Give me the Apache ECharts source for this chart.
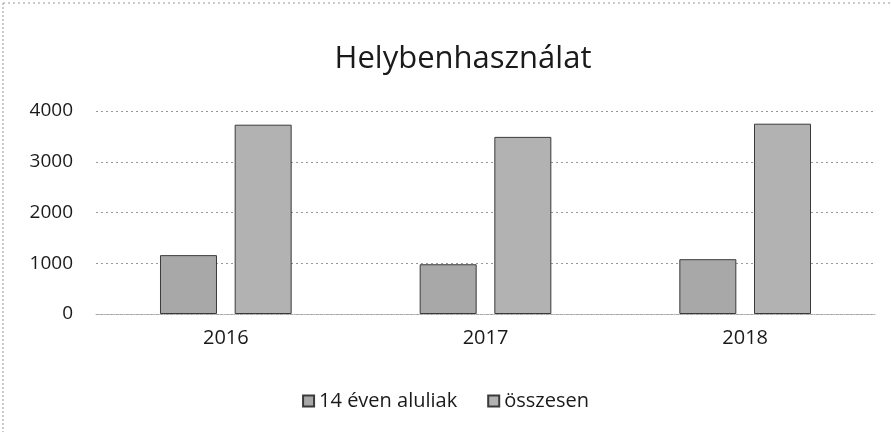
<!DOCTYPE html>
<html><head><meta charset="utf-8">
<script src="https://cdn.jsdelivr.net/npm/echarts@6/dist/echarts.min.js"></script>
<style>html,body{margin:0;padding:0;background:#fff}#c{width:891px;height:432px}</style>
</head><body><div id="c"></div>
<script>
const categories = ['2016', '2017', '2018'];
const under14 = [1160, 980, 1080];
const total = [3730, 3490, 3750];
const seriesNames = ['14 éven aluliak', 'összesen'];
const yTicks = [0, 1000, 2000, 3000, 4000];

const font = '"Open Sans", sans-serif';
const chart = echarts.init(document.getElementById('c'));
chart.setOption({
  animation: false,
  backgroundColor: '#fff',
  title: {
    text: 'Helybenhasználat', left: 458, textAlign: 'center', top: 39,
    textStyle: { fontFamily: font, fontSize: 31, fontWeight: 'normal', color: '#1a1a1a' }
  },
  legend: {
    top: 386, left: 'center', itemWidth: 11, itemHeight: 11, itemGap: 30,
    icon: 'rect',
    textStyle: { fontFamily: font, fontSize: 20, color: '#1a1a1a', padding: [0, 0, 0, 0] },
    data: seriesNames
  },
  grid: { left: 96, right: 16, top: 111, bottom: 118 },
  xAxis: {
    type: 'category', data: categories,
    axisLine: { show: true, lineStyle: { color: '#aaa', type: 'dotted' } },
    axisTick: { show: false },
    axisLabel: { fontFamily: font, fontSize: 20, color: '#1a1a1a', margin: 14 }
  },
  yAxis: {
    type: 'value', min: yTicks[0], max: yTicks[yTicks.length - 1], interval: 1000,
    axisLine: { show: false }, axisTick: { show: false },
    axisLabel: { fontFamily: font, fontSize: 19, color: '#1a1a1a', margin: 23, formatter: v => String(v) },
    splitLine: { lineStyle: { color: '#999', type: [2, 3] } }
  },
  series: [
    {
      name: seriesNames[0], type: 'bar', data: under14, barWidth: 57, barGap: '31%',
      itemStyle: { color: '#a8a8a8', borderColor: '#3a3a3a', borderWidth: 1 }
    },
    {
      name: seriesNames[1], type: 'bar', data: total, barWidth: 57,
      itemStyle: { color: '#b2b2b2', borderColor: '#3a3a3a', borderWidth: 1 }
    }
  ],
  graphic: [
    { type: 'line', shape: { x1: 3, y1: 3, x2: 891, y2: 3 }, style: { stroke: '#999', lineDash: [2, 3], lineWidth: 1 } },
    { type: 'line', shape: { x1: 3, y1: 3, x2: 3, y2: 432 }, style: { stroke: '#999', lineDash: [2, 2], lineWidth: 1 } }
  ]
});
</script></body></html>
